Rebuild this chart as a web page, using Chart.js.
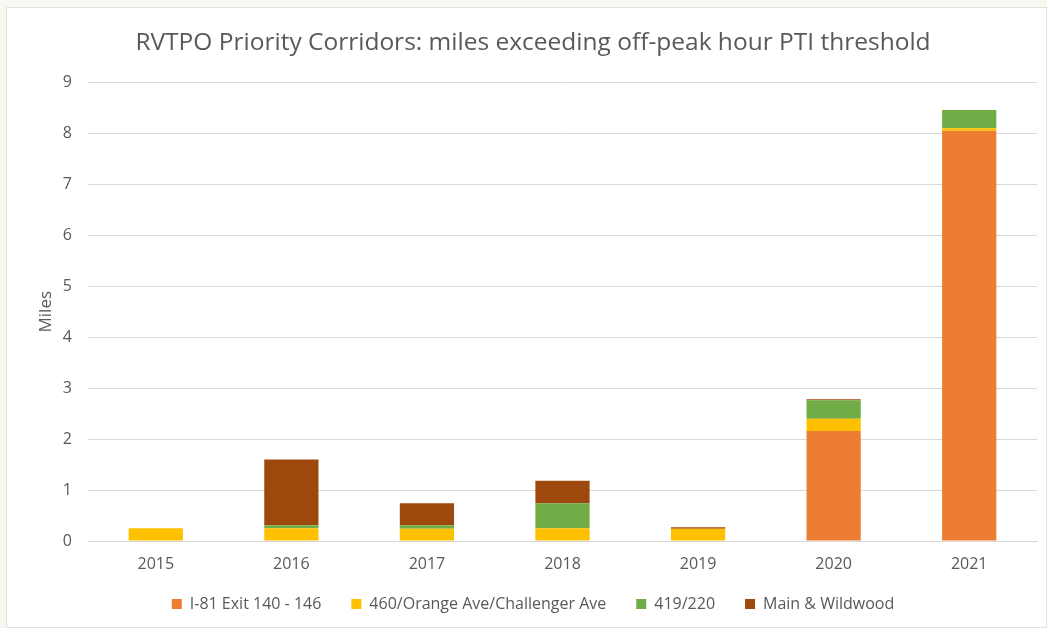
<!DOCTYPE html>
<html>
<head>
<meta charset="utf-8">
<script src="https://cdn.jsdelivr.net/npm/chart.js@4"></script>
<style>
  html, body { margin: 0; padding: 0; background: #f8f8f3; }
  #frame {
    position: absolute; left: 6px; top: 7px;
    width: 1041px; height: 621px;
    box-sizing: border-box;
    border: 1px solid #e2e2dc;
    background: #ffffff;
  }
</style>
</head>
<body>
<div id="frame"><canvas id="chart"></canvas></div>
<script>
"use strict";
// values
const years = ["2015", "2016", "2017", "2018", "2019", "2020", "2021"];
const i81Exit = [0, 0, 0, 0, 0, 2.16, 8.05];
const orangeChallenger = [0.25, 0.25, 0.24, 0.25, 0.24, 0.24, 0.05];
const route419 = [0, 0.06, 0.07, 0.49, 0, 0.36, 0.36];
const mainWildwood = [0, 1.29, 0.43, 0.44, 0.03, 0.02, 0];
const yTicks = [0, 1, 2, 3, 4, 5, 6, 7, 8, 9];

const textColor = "#595959";
const gridColor = "#d9d9d9";
const fontFamily = "'Open Sans', sans-serif";

function series(label, data, color) {
	return {
		label: label,
		data: data,
		backgroundColor: color,
		borderWidth: 0,
		barPercentage: 0.4,
		categoryPercentage: 1.0
	};
}

// the x axis box is kept short so the plot reaches down; let its labels draw below it
const unclipXLabels = {
	id: "unclipXLabels",
	afterLayout: function (chart) {
		chart.scales.x.bottom = chart.height;
	}
};

const ctx = document.getElementById("chart");
new Chart(ctx, {
	type: "bar",
	data: {
		labels: years,
		datasets: [
			series("I-81 Exit 140 - 146", i81Exit, "#ed7d31"),
			series("460/Orange Ave/Challenger Ave", orangeChallenger, "#ffc000"),
			series("419/220", route419, "#70ad47"),
			series("Main & Wildwood", mainWildwood, "#9e480e")
		]
	},
	plugins: [unclipXLabels],
	options: {
		responsive: true,
		maintainAspectRatio: false,
		animation: false,
		layout: {
			padding: { left: 22, right: 9, top: 20, bottom: 5 }
		},
		scales: {
			x: {
				stacked: true,
				grid: { display: false, drawTicks: false },
				border: { display: true, color: gridColor, width: 1 },
				ticks: {
					color: textColor,
					font: { family: fontFamily, size: 16 },
					padding: 14
				},
				afterFit: function (scale) {
					scale.height = 25;
				}
			},
			y: {
				stacked: true,
				min: 0,
				max: 9,
				afterBuildTicks: function (scale) {
					scale.ticks = yTicks.map(function (v) { return { value: v }; });
				},
				afterFit: function (scale) {
					scale.width = 59;
				},
				grid: { color: gridColor, lineWidth: 1, drawTicks: false },
				border: { display: false },
				ticks: {
					color: textColor,
					font: { family: fontFamily, size: 16 },
					padding: 16
				},
				title: {
					display: true,
					text: "Miles",
					color: textColor,
					font: { family: fontFamily, size: 17 },
					padding: { top: 7, bottom: 0 }
				}
			}
		},
		plugins: {
			title: {
				display: true,
				text: "RVTPO Priority Corridors: miles exceeding off-peak hour PTI threshold",
				color: textColor,
				font: { family: fontFamily, size: 24.5, weight: "normal" },
				padding: { top: 0, bottom: 25 }
			},
			legend: {
				display: true,
				position: "bottom",
				labels: {
					color: textColor,
					font: { family: fontFamily, size: 16 },
					boxWidth: 10,
					boxHeight: 10,
					padding: 30
				}
			},
			tooltip: { enabled: false }
		}
	}
});
</script>
</body>
</html>
